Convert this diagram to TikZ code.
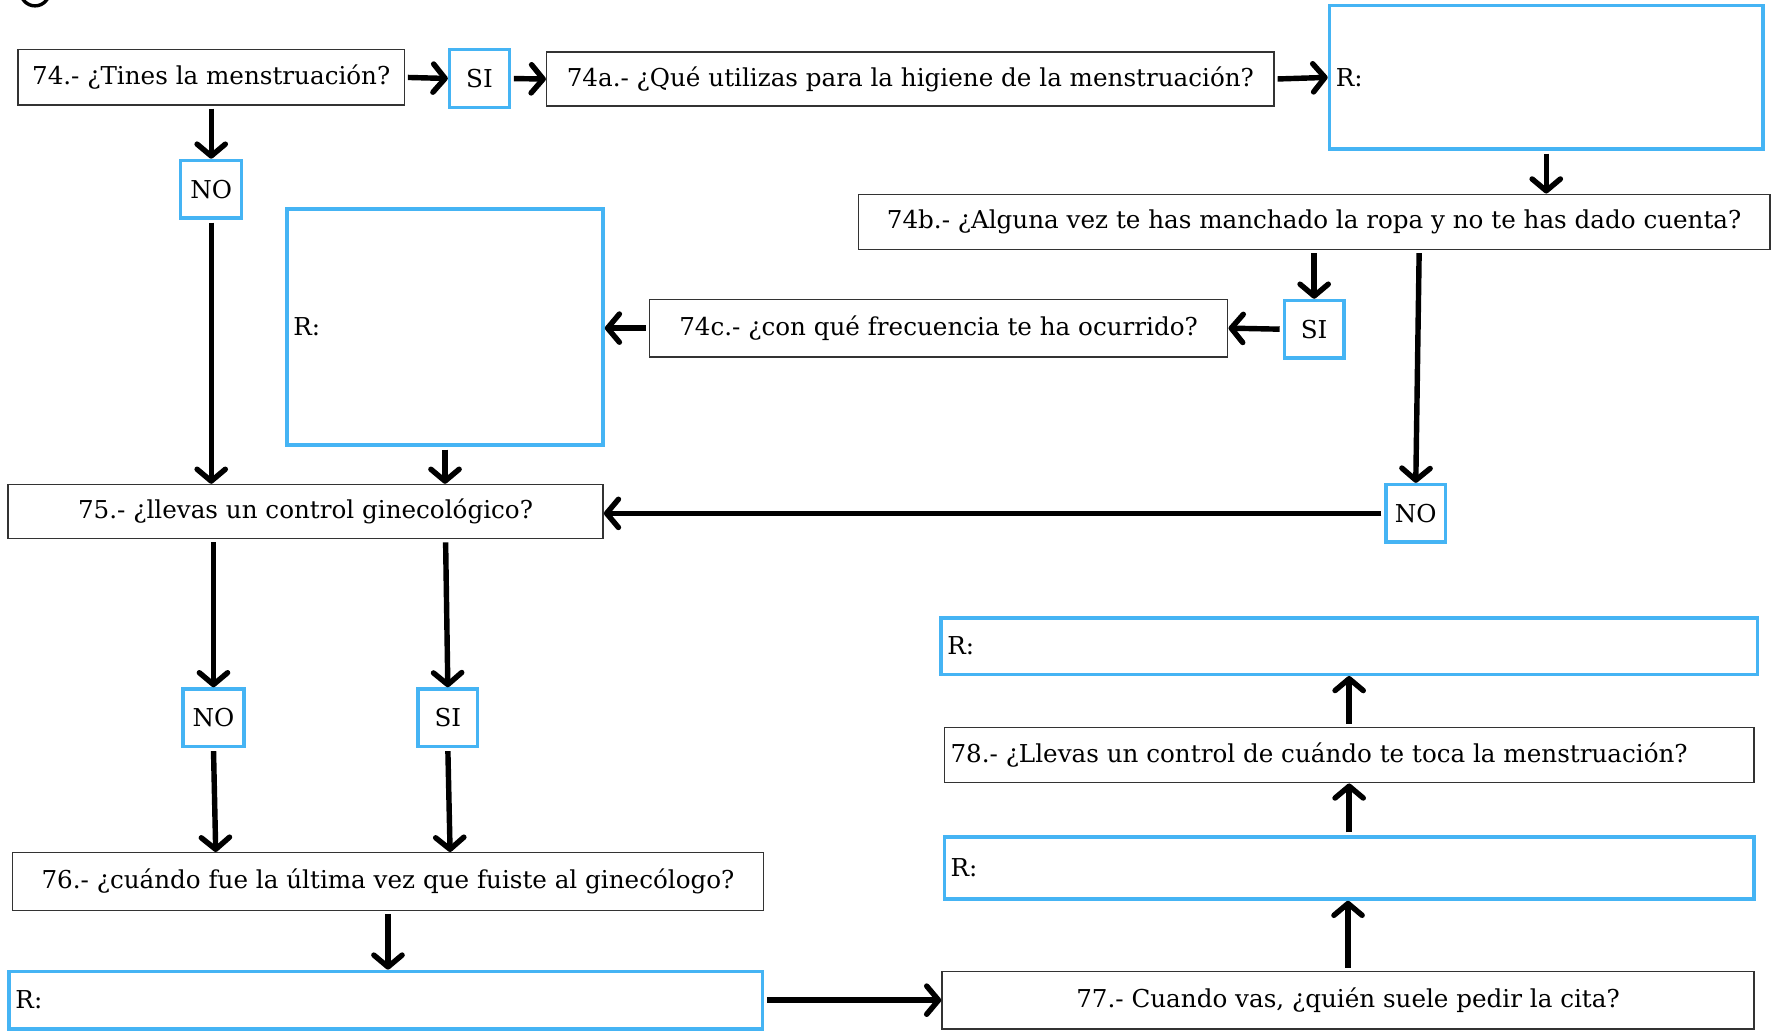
\documentclass[tikz,border=0pt]{standalone}
\usepackage{fontspec}
\setmainfont{DejaVu Serif}
\usetikzlibrary{arrows.meta}
\definecolor{boxblue}{HTML}{45B4F4}
\definecolor{boxline}{HTML}{333333}
\begin{document}
\begin{tikzpicture}[x=1pt,y=-1pt,
  txt/.style={font=\fontsize{21.8}{26}\selectfont, inner sep=0pt},
  qbox/.style={draw=boxline, line width=1.3pt, inner sep=0pt, txt},
  abox/.style={draw=boxblue, line width=3pt, inner sep=0pt, txt},
  conn/.style={line width=4.8pt, shorten <=2.5pt,
    -{Straight Barb[length=10.5pt,width=25pt,line cap=round,line join=round]}}]
\useasboundingbox (0,0) rectangle (1568,915);
\clip (0,0) rectangle (1568,915);
\fill[white] (0,0) rectangle (1568,915);

% corner mark
\draw[line width=3pt] (31,-7.5) circle (12.7);

% question boxes
\node[qbox, minimum width=342, minimum height=49] (q74) at (187,68.5) {74.- ¿Tines la menstruación?};
\node[qbox, minimum width=644, minimum height=48] (q74a) at (806,70) {74a.- ¿Qué utilizas para la higiene de la menstruación?};
\node[qbox, minimum width=807, minimum height=49] (q74b) at (1163.5,196.5) {74b.- ¿Alguna vez te has manchado la ropa y no te has dado cuenta?};
\node[qbox, minimum width=512, minimum height=51] (q74c) at (831,290.5) {74c.- ¿con qué frecuencia te ha ocurrido?};
\node[qbox, minimum width=527, minimum height=48] (q75) at (270.5,453) {75.- ¿llevas un control ginecológico?};
\node[qbox, minimum width=665, minimum height=51] (q76) at (343.5,780.5) {76.- ¿cuándo fue la última vez que fuiste al ginecólogo?};
\node[qbox, minimum width=719, minimum height=51] (q77) at (1193.5,885.5) {77.- Cuando vas, ¿quién suele pedir la cita?};
\node[qbox, minimum width=717, minimum height=49] (q78) at (1194.5,668.5) {};
\node[txt, anchor=west] (q78t) at ([xshift=6pt]q78.west) {78.- ¿Llevas un control de cuándo te toca la menstruación?};

% yes / no boxes
\node[abox, minimum width=53, minimum height=51] (si1) at (424.5,69.5) {SI};
\node[abox, minimum width=54, minimum height=51] (no1) at (187,167.5) {NO};
\node[abox, minimum width=53, minimum height=51] (si2) at (1163.5,291.5) {SI};
\node[abox, minimum width=53, minimum height=51] (no2) at (1253.5,454.5) {NO};
\node[abox, minimum width=54, minimum height=51] (no3) at (189,635.5) {NO};
\node[abox, minimum width=53, minimum height=51] (si3) at (396.5,635.5) {SI};

% answer boxes
\node[abox, minimum width=384, minimum height=127] (r1) at (1369,68.5) {};
\node[abox, minimum width=280, minimum height=209] (r2) at (394,289.5) {};
\node[abox, minimum width=667, minimum height=51] (r3) at (341.5,885.5) {};
\node[abox, minimum width=717, minimum height=55] (r4) at (1194.5,768.5) {};
\node[abox, minimum width=723, minimum height=50] (r5) at (1194.5,572) {};
\foreach \r in {r1,r2,r3,r4,r5}
  \node[txt, anchor=west] (\r t) at ([xshift=7pt]\r.west) {R:};

% connectors
\draw[conn] (q74.east) -- (si1.west);
\draw[conn] (si1.east) -- (q74a.west);
\draw[conn] (q74a.east) -- (r1.west);
\draw[conn] (r1.south) -- (r1.south |- q74b.north);
\draw[conn] (q74b.south -| si2.north) -- (si2.north);
\draw[conn] ([xshift=3pt]q74b.south -| no2.north) -- (no2.north);
\draw[conn] (si2.west) -- (q74c.east);
\draw[conn] (q74c.west) -- (q74c.west -| r2.east);
\draw[conn] (r2.south) -- (r2.south |- q75.north);
\draw[conn] (q74.south -| no1.north) -- (no1.north);
\draw[conn] (no1.south) -- (no1.south |- q75.north);
\draw[conn] (no2.west) -- (no2.west -| q75.east);
\draw[conn] (q75.south -| no3.north) -- (no3.north);
\draw[conn] ([xshift=-2pt]q75.south -| si3.north) -- (si3.north);
\draw[conn] (no3.south) -- ([xshift=2pt]no3.south |- q76.north);
\draw[conn] (si3.south) -- ([xshift=2pt]si3.south |- q76.north);
\draw[conn] (q76.south) -- (q76.south |- r3.north);
\draw[conn] (r3.east) -- (q77.west);
\draw[conn] (q77.north) -- (q77.north |- r4.south);
\draw[conn] (r4.north) -- (r4.north |- q78.south);
\draw[conn] (q78.north) -- (q78.north |- r5.south);
\end{tikzpicture}
\end{document}
